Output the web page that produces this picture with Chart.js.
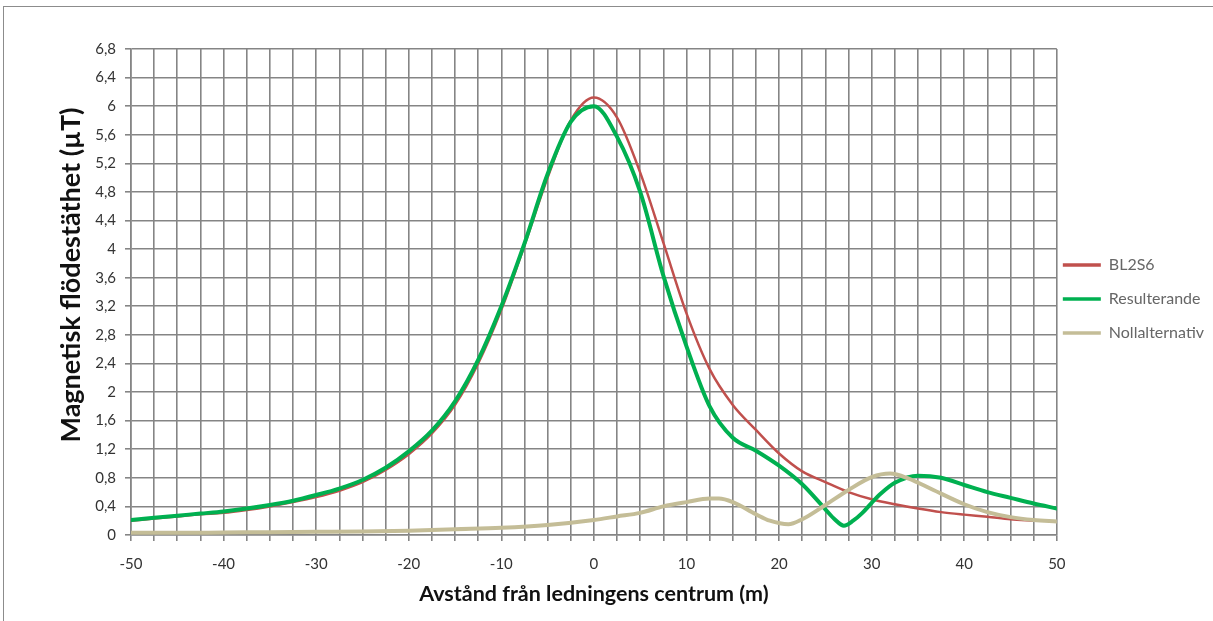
<!DOCTYPE html>
<html>
<head>
<meta charset="utf-8">
<script src="https://cdn.jsdelivr.net/npm/chart.js@4.4.1/dist/chart.umd.min.js"></script>
<style>
  html, body { margin: 0; padding: 0; background: #fff; }
  #wrap { position: relative; width: 1213px; height: 621px; overflow: hidden; }
  #frame { position: absolute; left: 3px; top: 6px; width: 1230px; height: 640px; border: 1px solid #8c8c8c; box-sizing: border-box; pointer-events: none; }
  canvas { position: absolute; left: 0; top: 0; }
</style>
</head>
<body>
<div id="wrap">
  <div id="frame"></div>
  <canvas id="c" width="1213" height="621"></canvas>
</div>
<script>
// ---- data ----
const seriesNames = ["BL2S6", "Resulterande", "Nollalternativ"];

const bl2s6X = [-50,-47.5,-45,-42.5,-40,-37.5,-35,-32.5,-30,-27.5,-25,-22.5,-20,-17.5,-15,-12.5,-10,-7.5,-5,-2.5,0,2.5,5,7.5,10,12.5,15,17.5,20,22.5,25,27.5,30,32.5,35,37.5,40,42.5,45,47.5];
const bl2s6Y = [0.20,0.23,0.26,0.29,0.31,0.35,0.40,0.46,0.53,0.62,0.74,0.91,1.13,1.42,1.82,2.40,3.15,4.05,5.00,5.80,6.12,5.84,5.07,4.09,3.10,2.32,1.82,1.47,1.14,0.89,0.74,0.60,0.50,0.43,0.37,0.32,0.285,0.255,0.22,0.20];

const resX = [-50,-47.5,-45,-42.5,-40,-37.5,-35,-32.5,-30,-27.5,-25,-22.5,-20,-17.5,-15,-12.5,-10,-7.5,-5,-2.5,0,2.5,5,7.5,10,12.5,15,17.5,20,22.5,25,26,27,28,29,30,31,32.5,35,37.5,40,42.5,45,47.5,50];
const resY = [0.21,0.24,0.27,0.30,0.33,0.37,0.42,0.48,0.56,0.65,0.77,0.94,1.17,1.46,1.87,2.45,3.20,4.08,5.05,5.78,6.00,5.57,4.80,3.63,2.64,1.80,1.36,1.18,0.97,0.71,0.36,0.22,0.13,0.20,0.31,0.45,0.58,0.73,0.83,0.80,0.70,0.60,0.52,0.44,0.37];

const nollX = [-50,-45,-40,-35,-30,-25,-20,-15,-10,-5,0,2.5,5,7.5,10,12.5,13.5,15,17.5,19,21,22.5,25,27.5,30,32,34,36.5,40,42.5,45,47.5,50];
const nollY = [0.03,0.03,0.035,0.04,0.045,0.05,0.06,0.08,0.10,0.14,0.21,0.26,0.31,0.40,0.46,0.51,0.51,0.46,0.29,0.20,0.15,0.22,0.42,0.63,0.81,0.86,0.79,0.64,0.43,0.32,0.25,0.21,0.19];

const xMin = -50, xMax = 50, xGridStep = 2.5, xLabelStep = 10;
const yMin = 0, yMax = 6.8, yStep = 0.4;

const xTitle = "Avstånd från ledningens centrum (m)";
const yTitle = "Magnetisk flödestäthet (µT)";

// ---- build ----
const zip = (xs, ys) => xs.map((x, i) => ({x: x, y: ys[i]}));
const FONT = "Lato, 'Open Sans', sans-serif";

const layoutTweak = {
  id: 'layoutTweak',
  afterLayout(chart) {
    if (chart.legend) { chart.legend.left -= 12; chart.legend.right -= 12; }
    const y = chart.scales.y;
    if (y && !y._titleShifted) {
      const orig = y.drawTitle;
      y.drawTitle = function () {
        const t = this.top;
        this.top = t - 34;
        orig.call(this);
        this.top = t;
      };
      y._titleShifted = true;
    }
  }
};

new Chart(document.getElementById('c'), {
  type: 'line',
  plugins: [layoutTweak],
  data: {
    datasets: [
      { label: seriesNames[0], data: zip(bl2s6X, bl2s6Y), borderColor: '#C0504D', backgroundColor: '#C0504D', borderWidth: 2.5, order: 3 },
      { label: seriesNames[1], data: zip(resX, resY), borderColor: '#00B050', backgroundColor: '#00B050', borderWidth: 4, order: 2 },
      { label: seriesNames[2], data: zip(nollX, nollY), borderColor: '#C4BD97', backgroundColor: '#C4BD97', borderWidth: 4, order: 1 }
    ]
  },
  options: {
    responsive: false,
    animation: false,
    devicePixelRatio: 1,
    elements: {
      point: { radius: 0, hoverRadius: 0 },
      line: { cubicInterpolationMode: 'monotone', fill: false, borderCapStyle: 'round', borderJoinStyle: 'round' }
    },
    layout: { padding: { top: 49, left: 55, right: -13, bottom: 14 } },
    plugins: {
      tooltip: { enabled: false },
      legend: {
        position: 'right',
        align: 'start',
        title: { display: true, text: ' ', font: { family: FONT, size: 10 }, padding: { top: 178, bottom: 0 } },
        labels: {
          usePointStyle: true,
          pointStyle: 'line',
          pointStyleWidth: 38,
          boxWidth: 38,
          boxHeight: 16,
          padding: 18,
          color: '#222',
          font: { family: FONT, size: 16 },
          generateLabels: (chart) => chart.data.datasets.map((ds, i) => ({
            text: ds.label, strokeStyle: ds.borderColor, fillStyle: ds.borderColor,
            lineWidth: 3.5, pointStyle: 'line', datasetIndex: i, hidden: false
          }))
        }
      }
    },
    scales: {
      x: {
        type: 'linear',
        min: xMin, max: xMax,
        afterFit: (s) => { s.height = 72; },
        afterBuildTicks: (s) => {
          const t = [];
          for (let v = xMin; v <= xMax + 1e-9; v += xGridStep) t.push({value: v});
          s.ticks = t;
        },
        ticks: {
          autoSkip: false,
          maxRotation: 0,
          padding: 14,
          color: '#333',
          font: { family: FONT, size: 15 },
          callback: (v) => (Math.abs(v % xLabelStep) < 1e-9 ? String(v) : '')
        },
        grid: { color: '#858585', lineWidth: 1.6, drawTicks: true, tickLength: 6, tickColor: '#858585' },
        border: { color: '#858585', width: 1.6 },
        title: { display: true, text: xTitle, color: '#111', font: { family: FONT, size: 21.5, weight: 'bold' }, padding: { top: 4, bottom: 0 } }
      },
      y: {
        type: 'linear',
        min: yMin, max: yMax,
        afterFit: (s) => { s.width = 76; },
        afterBuildTicks: (s) => {
          const t = [];
          for (let i = 0; i <= Math.round((yMax - yMin) / yStep); i++) t.push({value: +(yMin + i * yStep).toFixed(1)});
          s.ticks = t;
        },
        ticks: {
          autoSkip: false,
          padding: 9,
          color: '#333',
          font: { family: FONT, size: 15 },
          callback: (v) => String(+(+v).toFixed(1)).replace('.', ',')
        },
        grid: { color: '#858585', lineWidth: 1.6, drawTicks: true, tickLength: 6, tickColor: '#858585' },
        border: { color: '#858585', width: 1.6 },
        title: { display: true, text: yTitle, color: '#111', font: { family: FONT, size: 27, weight: 'bold' }, padding: { top: 0, bottom: 4 } }
      }
    }
  }
});
</script>
</body>
</html>
